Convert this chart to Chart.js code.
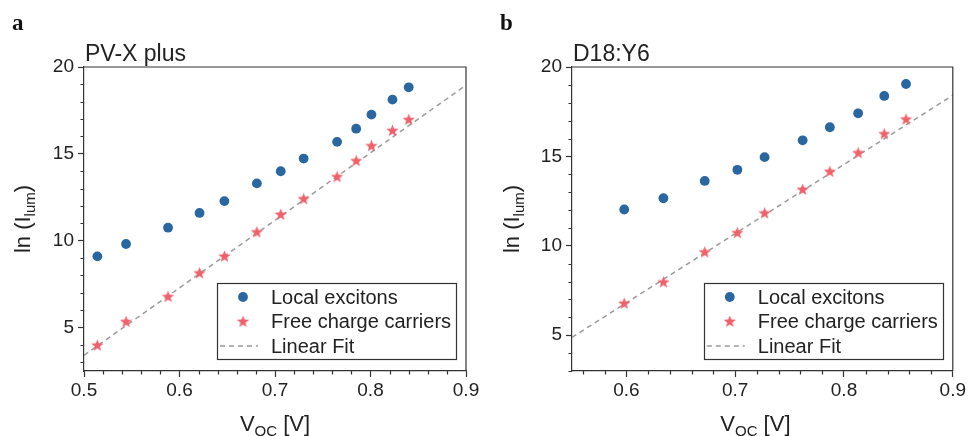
<!DOCTYPE html>
<html>
<head>
<meta charset="utf-8">
<script src="https://cdn.jsdelivr.net/npm/chart.js@4/dist/chart.umd.min.js"></script>
<style>
  html,body{margin:0;padding:0;background:#fff;}
  #wrap{position:relative;width:968px;height:436px;overflow:hidden;}
  canvas{position:absolute;top:0;}
</style>
</head>
<body>
<div id="wrap">
  <canvas id="cA" width="484" height="436" style="left:0"></canvas>
  <canvas id="cB" width="484" height="436" style="left:484px"></canvas>
</div>
<script>
// ---------- data ----------
const yTicks = [5, 10, 15, 20];
const xTicksA = [0.5, 0.6, 0.7, 0.8, 0.9];
const xTicksB = [0.6, 0.7, 0.8, 0.9];

const voltA = [0.514, 0.544, 0.588, 0.621, 0.647, 0.681, 0.706, 0.730, 0.765, 0.785, 0.801, 0.823, 0.840];
const localA = [9.10, 9.81, 10.75, 11.60, 12.28, 13.30, 14.00, 14.73, 15.69, 16.45, 17.26, 18.12, 18.83];
const freeA  = [3.98, 5.34, 6.78, 8.14, 9.10, 10.50, 11.51, 12.41, 13.68, 14.60, 15.46, 16.34, 16.97];
const fitXA = [0.5, 0.9];
const fitYA = [3.40, 18.95];

const voltB = [0.598, 0.634, 0.672, 0.702, 0.727, 0.762, 0.787, 0.813, 0.837, 0.857];
const localB = [12.03, 12.66, 13.63, 14.25, 14.96, 15.90, 16.63, 17.41, 18.38, 19.05];
const freeB  = [6.78, 7.97, 9.65, 10.73, 11.83, 13.15, 14.15, 15.20, 16.26, 17.08];
const fitXB = [0.55, 0.9];
const fitYB = [4.88, 18.42];

const seriesLabels = ['Local excitons', 'Free charge carriers', 'Linear Fit'];

// ---------- styles ----------
const BLUE = '#2a67a0';
const RED = '#f0626b';
const FITC = '#9b9b9b';
const AXC = '#333333';
const SANS = '"Liberation Sans", Arial, sans-serif';

function starImage(color, rOut, rIn) {
  const s = Math.ceil(rOut * 2 + 2);
  const c = document.createElement('canvas');
  c.width = s; c.height = s;
  const g = c.getContext('2d');
  g.fillStyle = color;
  g.beginPath();
  for (let i = 0; i < 10; i++) {
    const r = i % 2 === 0 ? rOut : rIn;
    const a = -Math.PI / 2 + i * Math.PI / 5;
    const px = s / 2 + r * Math.cos(a), py = s / 2 + 0.3 + r * Math.sin(a);
    if (i === 0) g.moveTo(px, py); else g.lineTo(px, py);
  }
  g.closePath();
  g.fill();
  return c;
}
const STAR = starImage(RED, 6.4, 2.7);

function zip(xs, ys) { return xs.map((x, i) => ({x: x, y: ys[i]})); }

const overlayPlugin = {
  id: 'overlay',
  afterDraw(chart, args, o) {
    const ctx = chart.ctx, ca = chart.chartArea;
    const xs = chart.scales.x, ys = chart.scales.y;
    ctx.save();
    // frame top/right
    ctx.strokeStyle = AXC; ctx.lineWidth = 1.2;
    ctx.beginPath();
    ctx.moveTo(ca.left, ca.top); ctx.lineTo(ca.right, ca.top); ctx.lineTo(ca.right, ca.bottom);
    ctx.stroke();
    // minor ticks
    ctx.beginPath();
    for (let v = Math.ceil(ys.min); v <= ys.max + 1e-9; v += 1) {
      if (v % 5 === 0) continue;
      const py = Math.round(ys.getPixelForValue(v)) + 0.5;
      ctx.moveTo(ca.left - 3.5, py); ctx.lineTo(ca.left, py);
    }
    for (let k = Math.ceil(xs.min * 50 - 1e-6); k <= xs.max * 50 + 1e-6; k++) {
      if (k % 5 === 0) continue;
      const px = Math.round(xs.getPixelForValue(k / 50)) + 0.5;
      ctx.moveTo(px, ca.bottom); ctx.lineTo(px, ca.bottom + 3.5);
    }
    ctx.stroke();

    // panel letter
    ctx.fillStyle = '#111';
    ctx.font = 'bold 23px "Liberation Serif", "Times New Roman", serif';
    ctx.textAlign = 'left'; ctx.textBaseline = 'alphabetic';
    ctx.fillText(o.letter, o.letterX, 30);
    // title
    ctx.fillStyle = '#222';
    ctx.font = '23px ' + SANS;
    ctx.fillText(o.title, ca.left + 1, 61);

    // x axis title V_OC [V]
    const big = '22px ' + SANS, small = '15px ' + SANS;
    ctx.font = big; const w1 = ctx.measureText('V').width;
    ctx.font = small; const w2 = ctx.measureText('OC').width;
    ctx.font = big; const w3 = ctx.measureText(' [V]').width;
    let x0 = (ca.left + ca.right) / 2 - (w1 + w2 + w3) / 2 + o.xTitleShift;
    const by = 431;
    ctx.font = big; ctx.fillText('V', x0, by);
    ctx.font = small; ctx.fillText('OC', x0 + w1, by + 5);
    ctx.font = big; ctx.fillText(' [V]', x0 + w1 + w2, by);

    // y axis title ln (I_lum)
    ctx.save();
    ctx.translate(o.yTitleX, (ca.top + ca.bottom) / 2);
    ctx.rotate(-Math.PI / 2);
    ctx.font = big; const a1 = ctx.measureText('ln (I').width;
    ctx.font = small; const a2 = ctx.measureText('lum').width;
    ctx.font = big; const a3 = ctx.measureText(')').width;
    let s0 = -(a1 + a2 + a3) / 2;
    ctx.textBaseline = 'alphabetic';
    ctx.font = big; ctx.fillText('ln (I', s0, 8);
    ctx.font = small; ctx.fillText('lum', s0 + a1, 13);
    ctx.font = big; ctx.fillText(')', s0 + a1 + a2, 8);
    ctx.restore();

    // legend
    const ds = chart.data.datasets;
    const bw = 239, bh = 76;
    const bx = ca.right - 10 - bw, byy = ca.bottom - 12 - bh;
    ctx.fillStyle = '#fff';
    ctx.fillRect(bx, byy, bw, bh);
    ctx.strokeStyle = AXC; ctx.lineWidth = 1.2;
    ctx.strokeRect(Math.round(bx) + 0.5, Math.round(byy) + 0.5, bw, bh);
    const rows = [byy + 14, byy + 38.5, byy + 63];
    const mx = bx + 26, tx = bx + 54;
    ctx.font = '20px ' + SANS; ctx.fillStyle = '#222';
    ctx.textBaseline = 'middle'; ctx.textAlign = 'left';
    ds.forEach((d, i) => {
      const ry = rows[i];
      if (d.type === 'line' || d.showLine) {
        ctx.save();
        ctx.strokeStyle = d.borderColor; ctx.lineWidth = d.borderWidth;
        ctx.setLineDash(d.borderDash || []);
        ctx.beginPath(); ctx.moveTo(bx + 3, ry); ctx.lineTo(bx + 41, ry); ctx.stroke();
        ctx.restore();
      } else if (d.pointStyle === 'circle') {
        ctx.fillStyle = d.backgroundColor;
        ctx.beginPath(); ctx.arc(mx, ry, d.pointRadius, 0, Math.PI * 2); ctx.fill();
      } else {
        ctx.drawImage(d.pointStyle, mx - d.pointStyle.width / 2, ry - d.pointStyle.height / 2);
      }
      ctx.fillStyle = '#222';
      ctx.fillText(d.label, tx, ry + 1);
    });
    ctx.restore();
  }
};

function makeChart(id, cfg) {
  return new Chart(document.getElementById(id), {
    type: 'scatter',
    data: {
      datasets: [
        {label: seriesLabels[0], data: zip(cfg.volt, cfg.local), pointStyle: 'circle',
         pointRadius: 4.9, pointHoverRadius: 4.9, backgroundColor: BLUE, borderWidth: 0, order: 2},
        {label: seriesLabels[1], data: zip(cfg.volt, cfg.free), pointStyle: STAR,
         pointRadius: 6, backgroundColor: RED, borderWidth: 0, order: 1},
        {label: seriesLabels[2], type: 'line', data: zip(cfg.fitX, cfg.fitY), borderColor: FITC,
         borderWidth: 1.5, borderDash: [5, 4], pointRadius: 0, fill: false, order: 3}
      ]
    },
    options: {
      responsive: false, animation: false, devicePixelRatio: 1,
      layout: {padding: {left: 0, right: cfg.padRight, top: 67, bottom: 0}},
      plugins: {legend: {display: false}, tooltip: {enabled: false},
        overlay: {letter: cfg.letter, letterX: cfg.letterX, title: cfg.title,
                  yTitleX: cfg.yTitleX, xTitleShift: cfg.xTitleShift}},
      scales: {
        x: {
          type: 'linear', min: cfg.xMin, max: 0.9,
          afterBuildTicks: s => { s.ticks = cfg.xTicks.map(v => ({value: v})); },
          afterFit: s => { s.height = 65; },
          grid: {display: true, drawOnChartArea: false, drawTicks: true, tickLength: 6,
                 tickColor: AXC, tickWidth: 1.2},
          border: {display: true, color: AXC, width: 1.2},
          ticks: {font: {family: SANS, size: 19}, color: '#222', padding: 2,
                  maxRotation: 0, autoSkip: false, callback: v => Number(v).toFixed(1)}
        },
        y: {
          type: 'linear', min: cfg.yMin, max: 20,
          afterBuildTicks: s => { s.ticks = yTicks.map(v => ({value: v})); },
          afterFit: s => { s.width = cfg.yWidth; },
          grid: {display: true, drawOnChartArea: false, drawTicks: true, tickLength: 6,
                 tickColor: AXC, tickWidth: 1.2},
          border: {display: true, color: AXC, width: 1.2},
          ticks: {font: {family: SANS, size: 19}, color: '#222', padding: 4,
                  autoSkip: false, callback: v => String(v)}
        }
      }
    },
    plugins: [overlayPlugin]
  });
}

makeChart('cA', {volt: voltA, local: localA, free: freeA, fitX: fitXA, fitY: fitYA,
  xTicks: xTicksA, xMin: 0.5, yMin: 2.5, yWidth: 84, padRight: 18,
  letter: 'a', letterX: 12, title: 'PV-X plus', yTitleX: 22, xTitleShift: 0});
makeChart('cB', {volt: voltB, local: localB, free: freeB, fitX: fitXB, fitY: fitYB,
  xTicks: xTicksB, xMin: 0.55, yMin: 3, yWidth: 88, padRight: 14,
  letter: 'b', letterX: 16, title: 'D18:Y6', yTitleX: 27, xTitleShift: -7});
</script>
</body>
</html>
